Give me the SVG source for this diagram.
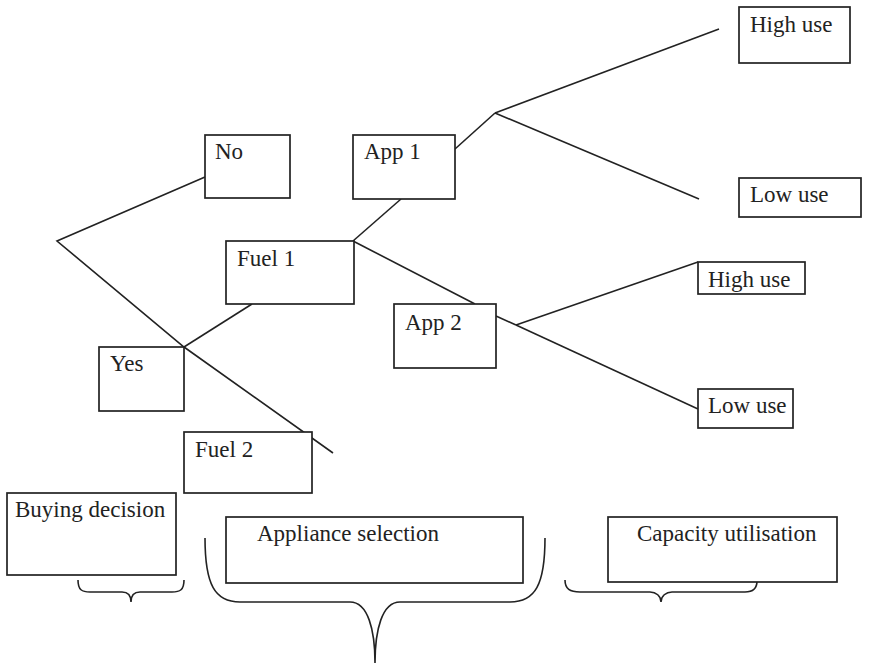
<svg xmlns="http://www.w3.org/2000/svg" width="886" height="667" viewBox="0 0 886 667">
<style>
rect{fill:#fff;stroke:#222;stroke-width:1.7}
.c line,.c polyline,.c path{fill:none;stroke:#222;stroke-width:1.6}
text{font-family:"Liberation Serif","Times New Roman",serif;font-size:23px;fill:#222}
</style>
<rect x="0" y="0" width="886" height="667" style="stroke:none"/>
<g class="c" id="connectors">
<polyline points="205,177 57,241 184,347 333,453"/>
<line x1="184" y1="347" x2="252" y2="304"/>
<line x1="353" y1="241" x2="401" y2="199"/>
<line x1="353" y1="241" x2="475" y2="304"/>
<line x1="455" y1="149" x2="495" y2="113"/>
<line x1="495" y1="113" x2="719" y2="29"/>
<line x1="495" y1="113" x2="699" y2="199"/>
<line x1="496" y1="316" x2="516" y2="325"/>
<line x1="516" y1="325" x2="698" y2="262"/>
<line x1="516" y1="325" x2="698" y2="409"/>
<path d="M78,580 C78,590 82,592 90,592 L122,592 C128,592 131,596 131,602 C131,596 134,592 140,592 L172,592 C180,592 184,590 184,580"/>
<path d="M205,538 C205,585 215,602 240,602 L350,602 C368,602 375,630 375,663 C375,630 382,602 400,602 L510,602 C535,602 545,585 545,538"/>
<path d="M565,580 C565,589 570,592 580,592 L650,592 C656,592 661,596 661,602 C661,596 666,592 672,592 L745,592 C753,592 757,589 757,581"/>
</g>
<g id="no"><rect x="205" y="135" width="85" height="63"/><text x="215" y="159">No</text></g>
<g id="fuel1"><rect x="226" y="241" width="128" height="63"/><text x="237" y="266">Fuel 1</text></g>
<g id="yes"><rect x="99" y="347" width="85" height="64"/><text x="110" y="371">Yes</text></g>
<g id="fuel2"><rect x="184" y="432" width="128" height="61"/><text x="195" y="457">Fuel 2</text></g>
<g id="app1"><rect x="353" y="135" width="102" height="64"/><text x="364" y="159">App 1</text></g>
<g id="app2"><rect x="394" y="304" width="102" height="64"/><text x="405" y="330">App 2</text></g>
<g id="high1"><rect x="739" y="7" width="111" height="56"/><text x="750" y="32">High use</text></g>
<g id="low1"><rect x="739" y="178" width="122" height="39"/><text x="750" y="202">Low use</text></g>
<g id="high2"><rect x="698" y="262" width="107" height="32"/><text x="708" y="287">High use</text></g>
<g id="low2"><rect x="698" y="389" width="95" height="39"/><text x="708" y="413">Low use</text></g>
<g id="buying"><rect x="7" y="493" width="169" height="82"/><text x="15" y="517">Buying decision</text></g>
<g id="appliance"><rect x="226" y="517" width="297" height="66"/><text x="257" y="541">Appliance selection</text></g>
<g id="capacity"><rect x="608" y="517" width="229" height="65"/><text x="637" y="541">Capacity utilisation</text></g>
</svg>
